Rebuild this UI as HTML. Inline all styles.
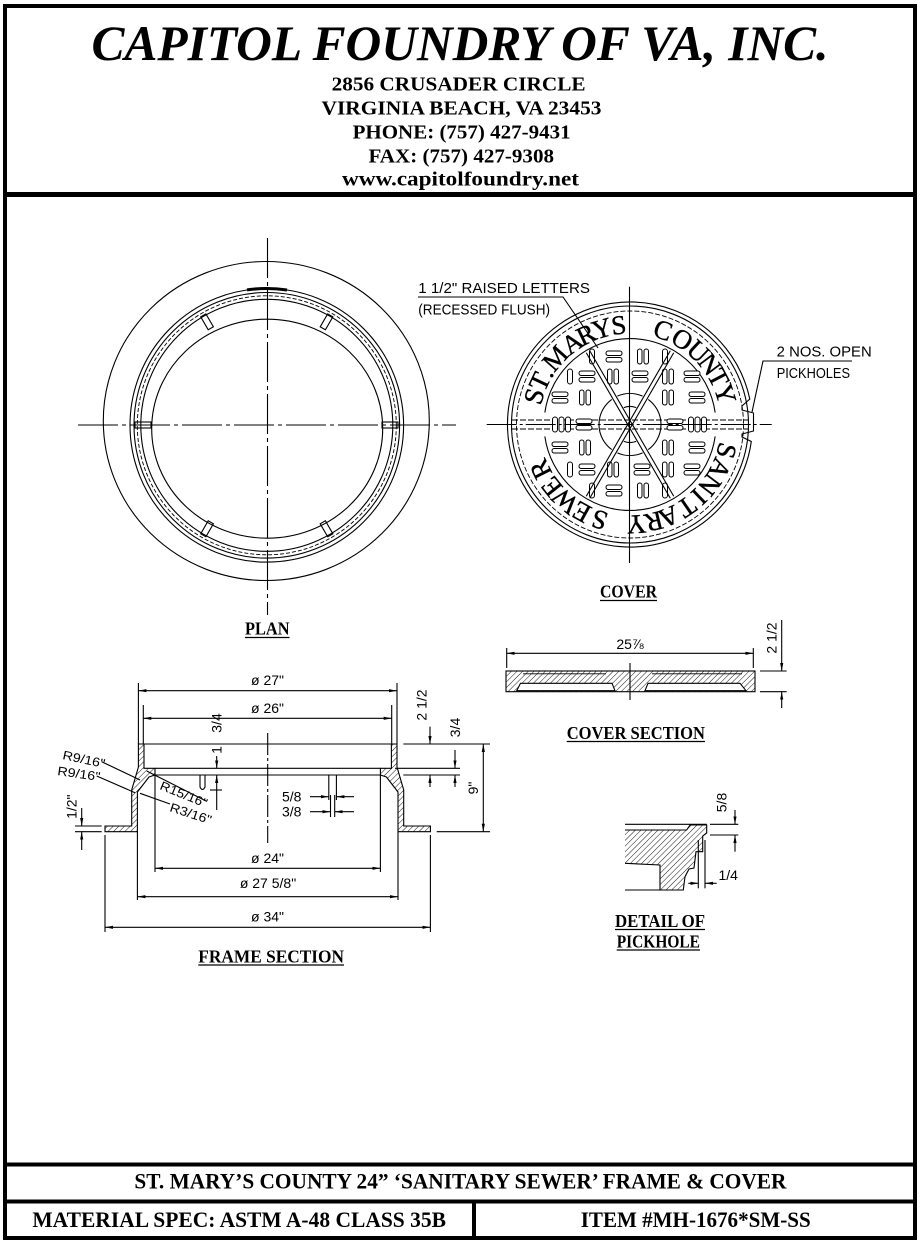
<!DOCTYPE html>
<html><head><meta charset="utf-8">
<style>
html,body{margin:0;padding:0;background:#fff;}
svg{display:block;}
.s{font-family:"Liberation Sans",Arial,sans-serif;}
.t{font-family:"Liberation Serif","Times New Roman",serif;}
</style></head>
<body>
<svg width="920" height="1246" viewBox="0 0 920 1246" xmlns="http://www.w3.org/2000/svg">
<defs>
<marker id="a" viewBox="0 0 10 4" refX="10" refY="2" markerWidth="8" markerHeight="3.2" markerUnits="userSpaceOnUse" orient="auto-start-reverse"><path d="M0,0 L10,2 L0,4 Z" fill="#000" stroke="none"/></marker>
<pattern id="h" width="4" height="4" patternUnits="userSpaceOnUse" patternTransform="rotate(45)"><line x1="0" y1="-1" x2="0" y2="5" stroke="#000" stroke-width="0.9"/></pattern>
<g id="sh"><rect x="-8" y="-5.5" width="16" height="4.5" rx="2.2"/><rect x="-8" y="1" width="16" height="4.5" rx="2.2"/></g>
<g id="sv"><rect x="-5.5" y="-7.5" width="4.5" height="15" rx="2.2"/><rect x="1" y="-7.5" width="4.5" height="15" rx="2.2"/></g>
<rect id="s1" x="-2.5" y="-7.5" width="5" height="15" rx="2.5"/>
</defs>
<rect width="920" height="1246" fill="#fff"/>

<!-- borders -->
<g fill="none" stroke="#000">
<rect x="5" y="6" width="910" height="1232" stroke-width="4"/>
<line x1="5" y1="194.5" x2="915" y2="194.5" stroke-width="5"/>
<line x1="5" y1="1164.5" x2="915" y2="1164.5" stroke-width="4"/>
<line x1="5" y1="1201.5" x2="915" y2="1201.5" stroke-width="4"/>
<line x1="474" y1="1201.5" x2="474" y2="1238" stroke-width="4"/>
</g>

<!-- header -->
<g class="t" fill="#000" font-weight="bold">
<text x="91.5" y="60" font-size="50" font-style="italic" textLength="737" lengthAdjust="spacingAndGlyphs">CAPITOL FOUNDRY OF VA, INC.</text>
<text x="331.6" y="90.5" font-size="20.5" textLength="254" lengthAdjust="spacingAndGlyphs">2856 CRUSADER CIRCLE</text>
<text x="321.5" y="114.5" font-size="20.5" textLength="280" lengthAdjust="spacingAndGlyphs">VIRGINIA BEACH, VA 23453</text>
<text x="352.6" y="138.5" font-size="20.5" textLength="218" lengthAdjust="spacingAndGlyphs">PHONE: (757) 427-9431</text>
<text x="368.5" y="162.5" font-size="20.5" textLength="185.5" lengthAdjust="spacingAndGlyphs">FAX: (757) 427-9308</text>
<text x="342" y="185.5" font-size="20.5" textLength="237" lengthAdjust="spacingAndGlyphs">www.capitolfoundry.net</text>
</g>

<!-- footer -->
<g class="t" fill="#000" font-weight="bold" font-size="22">
<text x="134.4" y="1188.3" textLength="652" lengthAdjust="spacingAndGlyphs">ST. MARY’S COUNTY 24” ‘SANITARY SEWER’ FRAME &amp; COVER</text>
<text x="32.4" y="1227" textLength="413.6" lengthAdjust="spacingAndGlyphs">MATERIAL SPEC:  ASTM A-48 CLASS 35B</text>
<text x="580.7" y="1227" textLength="230" lengthAdjust="spacingAndGlyphs">ITEM #MH-1676*SM-SS</text>
</g>

<!-- PLAN -->
<g fill="none" stroke="#000" stroke-width="1.1">
<ellipse cx="266.3" cy="421" rx="163" ry="159.5"/>
<circle cx="266.8" cy="425.3" r="136.8"/>
<circle cx="266.8" cy="425.3" r="132.8"/>
<circle cx="266.8" cy="425.3" r="129.5" stroke-dasharray="4 2" stroke-width="0.9"/>
<circle cx="266.8" cy="425.3" r="126"/>
<ellipse cx="267.2" cy="428.7" rx="115.5" ry="109.5"/>
<path d="M247,289.9 A136.8,136.8 0 0 1 287,290" stroke-width="3"/>
<g transform="translate(266.8 425.3)">
<rect x="-3" y="-127" width="6" height="15" transform="rotate(30)"/>
<rect x="-3" y="-127" width="6" height="15" transform="rotate(-30)"/>
<rect x="-3" y="-127" width="6" height="15" transform="rotate(150)"/>
<rect x="-3" y="-127" width="6" height="15" transform="rotate(-150)"/>
</g>
<rect x="135" y="422" width="16" height="6"/>
<rect x="382" y="422" width="16" height="6"/>
<line x1="267.5" y1="238" x2="267.5" y2="615" stroke-dasharray="40 4 4 4"/>
<line x1="78" y1="425" x2="456" y2="425" stroke-dasharray="40 4 4 4"/>
</g>
<g class="t" font-weight="bold" font-size="17.5" fill="#000">
<text x="245" y="634.5" textLength="44.5" lengthAdjust="spacingAndGlyphs">PLAN</text>
<text x="600" y="597.5" textLength="57" lengthAdjust="spacingAndGlyphs">COVER</text>
<text x="198.3" y="962.5" textLength="145.7" lengthAdjust="spacingAndGlyphs">FRAME SECTION</text>
<text x="566.7" y="739" textLength="138.3" lengthAdjust="spacingAndGlyphs">COVER SECTION</text>
<text x="615" y="927" textLength="90" lengthAdjust="spacingAndGlyphs">DETAIL OF</text>
<text x="616.7" y="947.5" textLength="83.3" lengthAdjust="spacingAndGlyphs">PICKHOLE</text>
</g>
<g stroke="#000" stroke-width="1.3">
<line x1="245" y1="637.5" x2="289.5" y2="637.5"/>
<line x1="600" y1="600.5" x2="657" y2="600.5"/>
<line x1="198.3" y1="965" x2="344" y2="965"/>
<line x1="566.7" y1="741.5" x2="705" y2="741.5"/>
<line x1="615" y1="929.5" x2="705" y2="929.5"/>
<line x1="616.7" y1="950" x2="700" y2="950"/>
</g>

<!-- COVER -->
<g fill="none" stroke="#000" stroke-width="1.1">
<path d="M749.8,399 A122.5,122.5 0 1 0 751.3,441.5 L742,437 L742,434 L753.5,431 L753.5,413 L742,410 L742,406 Z"/>
<circle cx="630" cy="424.5" r="118.5"/>
<circle cx="630" cy="424.5" r="113.5" stroke-dasharray="5 2" stroke-width="0.9"/>
<path d="M544.84,412.53 A86,86 0 0 1 715.16,412.53"/>
<path d="M715.16,436.47 A86,86 0 0 1 544.84,436.47"/>
<line x1="512" y1="420" x2="748" y2="420" stroke-dasharray="6 2" stroke-width="0.9"/>
<line x1="512" y1="429" x2="748" y2="429" stroke-dasharray="6 2" stroke-width="0.9"/>
</g>
<g fill="#fff" stroke="#000" stroke-width="1">
<use href="#s1" x="592" y="356.5"/><use href="#sh" x="614" y="356.5"/><use href="#sv" x="643" y="356.5"/><use href="#s1" x="665" y="356.5"/>
<use href="#s1" x="570" y="376.5"/><use href="#sh" x="587" y="376.5"/><use href="#sv" x="613" y="376.5"/><use href="#sh" x="640" y="376.5"/><use href="#sv" x="668" y="376.5"/><use href="#sh" x="692" y="376.5"/>
<use href="#sh" x="560" y="397.5"/><use href="#sv" x="585" y="397.5"/><use href="#sv" x="668" y="397.5"/><use href="#sh" x="697" y="397.5"/>
<use href="#s1" x="555" y="424.5"/><use href="#s1" x="561.5" y="424.5"/><use href="#s1" x="568" y="424.5"/><use href="#sh" x="584" y="424.5"/>
<use href="#sh" x="675" y="424.5"/><use href="#s1" x="691" y="424.5"/><use href="#s1" x="697.5" y="424.5"/><use href="#s1" x="704" y="424.5"/>
<use href="#sh" x="560" y="447.5"/><use href="#sv" x="585" y="447.5"/><use href="#sv" x="668" y="447.5"/><use href="#sh" x="697" y="447.5"/>
<use href="#s1" x="570" y="469.5"/><use href="#sh" x="587" y="469.5"/><use href="#sv" x="613" y="469.5"/><use href="#sh" x="642" y="469.5"/><use href="#sv" x="668" y="469.5"/><use href="#sh" x="692" y="469.5"/>
<use href="#s1" x="592" y="490.5"/><use href="#sh" x="614" y="490.5"/><use href="#sv" x="643" y="490.5"/><use href="#s1" x="665" y="490.5"/>
</g>
<g fill="none" stroke="#000" stroke-width="1.1">
<path d="M642.61,396.18 A31,31 0 0 0 617.39,396.18"/>
<path d="M611.78,399.42 A31,31 0 0 0 611.78,449.58"/>
<path d="M617.39,452.82 A31,31 0 0 0 642.61,452.82"/>
<path d="M648.22,449.58 A31,31 0 0 0 648.22,399.42"/>
<path d="M636.2,407.6 A18,18 0 0 0 623.8,407.6"/>
<path d="M623.8,441.4 A18,18 0 0 0 636.2,441.4"/>
<line x1="673.73" y1="352.76" x2="589.73" y2="498.24"/>
<line x1="670.27" y1="350.76" x2="586.27" y2="496.24"/>
<line x1="589.73" y1="350.76" x2="673.73" y2="496.24"/>
<line x1="586.27" y1="352.76" x2="670.27" y2="498.24"/>
<line x1="629.5" y1="286.7" x2="629.5" y2="563"/>
<line x1="486.7" y1="424.5" x2="771.7" y2="424.5" stroke-dasharray="30 3 3 3"/>
<!-- leaders -->
<polyline points="418,297 563,297 598,348"/>
<polyline points="852,361 763,361 752,412"/>
</g>
<g class="t" font-size="27" text-anchor="middle" fill="#000" stroke="#000" stroke-width="0.4">
<text x="630" y="333.5" transform="rotate(-73.6 630 424.5)">S</text>
<text x="630" y="333.5" transform="rotate(-64.6 630 424.5)">T</text>
<text x="630" y="333.5" transform="rotate(-58 630 424.5)">.</text>
<text x="630" y="333.5" transform="rotate(-48.4 630 424.5)">M</text>
<text x="630" y="333.5" transform="rotate(-35.3 630 424.5)">A</text>
<text x="630" y="333.5" transform="rotate(-26 630 424.5)">R</text>
<text x="630" y="333.5" transform="rotate(-16.3 630 424.5)">Y</text>
<text x="630" y="333.5" transform="rotate(-6.5 630 424.5)">S</text>
<text x="630" y="333.5" transform="rotate(19.3 630 424.5)">C</text>
<text x="630" y="333.5" transform="rotate(31.6 630 424.5)">O</text>
<text x="630" y="333.5" transform="rotate(43 630 424.5)">U</text>
<text x="630" y="333.5" transform="rotate(53 630 424.5)">N</text>
<text x="630" y="333.5" transform="rotate(62.2 630 424.5)">T</text>
<text x="630" y="333.5" transform="rotate(72.2 630 424.5)">Y</text>
<text x="630" y="333.5" transform="rotate(105.2 630 424.5)">S</text>
<text x="630" y="333.5" transform="rotate(116.1 630 424.5)">A</text>
<text x="630" y="333.5" transform="rotate(127 630 424.5)">N</text>
<text x="630" y="333.5" transform="rotate(136.3 630 424.5)">I</text>
<text x="630" y="333.5" transform="rotate(145.5 630 424.5)">T</text>
<text x="630" y="333.5" transform="rotate(157.2 630 424.5)">A</text>
<text x="630" y="333.5" transform="rotate(166.2 630 424.5)">R</text>
<text x="630" y="333.5" transform="rotate(176.4 630 424.5)">Y</text>
<text x="630" y="333.5" transform="rotate(197.8 630 424.5)">S</text>
<text x="630" y="333.5" transform="rotate(209 630 424.5)">E</text>
<text x="630" y="333.5" transform="rotate(220.4 630 424.5)">W</text>
<text x="630" y="333.5" transform="rotate(231.6 630 424.5)">E</text>
<text x="630" y="333.5" transform="rotate(243.4 630 424.5)">R</text>
</g>
<g class="s" fill="#000" font-size="14.5">
<text x="418.3" y="293" textLength="171.7" lengthAdjust="spacingAndGlyphs">1  1/2" RAISED LETTERS</text>
<text x="418.3" y="314.5" textLength="131.7" lengthAdjust="spacingAndGlyphs">(RECESSED FLUSH)</text>
<text x="776.7" y="356.7" textLength="95" lengthAdjust="spacingAndGlyphs">2 NOS. OPEN</text>
<text x="776.7" y="378" textLength="73.3" lengthAdjust="spacingAndGlyphs">PICKHOLES</text>
</g>

<!-- COVER SECTION -->
<g stroke="#000" stroke-width="1.1">
<rect x="506" y="671" width="249" height="20.7" fill="url(#h)"/>
<path d="M516.7,690.7 L520.5,683.3 L612,683.3 L615,690.7 Z" fill="#fff"/>
<path d="M645,690.7 L648,683.3 L740,683.3 L746,690.7 Z" fill="#fff"/>
<line x1="523" y1="673.8" x2="606" y2="673.8" stroke-width="0.8"/>
<line x1="652" y1="673.8" x2="742" y2="673.8" stroke-width="0.8"/>
<line x1="630" y1="663" x2="630" y2="700"/>
<line x1="506.7" y1="648" x2="506.7" y2="668" fill="none"/>
<line x1="753.3" y1="648" x2="753.3" y2="668"/>
<line x1="506.7" y1="653.3" x2="753.3" y2="653.3" marker-start="url(#a)" marker-end="url(#a)"/>
<line x1="760" y1="671" x2="786.7" y2="671"/>
<line x1="760" y1="691.7" x2="786.7" y2="691.7"/>
<line x1="781.7" y1="620" x2="781.7" y2="671" marker-end="url(#a)"/>
<line x1="781.7" y1="708" x2="781.7" y2="691.7" marker-end="url(#a)"/>
</g>
<g class="s" fill="#000" font-size="14">
<text x="630" y="649" text-anchor="middle">25⅞</text>
<text transform="translate(776.7 638) rotate(-90)" text-anchor="middle">2 1/2</text>
</g>

<!-- FRAME SECTION -->
<g stroke="#000" stroke-width="1.1" fill="none">
<path d="M138.4,744 L144,744 L144,768.3 L155,768.3 L155,775 L149,777 L137.4,792 L137.4,831.7 L105,831.7 L105,826 L131.7,826 L131.7,790 L138.4,767 Z" fill="url(#h)"/>
<path d="M397,744 L391.4,744 L391.4,768.3 L380.4,768.3 L380.4,775 L386.4,777 L398,792 L398,831.7 L430.4,831.7 L430.4,826 L403.7,826 L403.7,790 L397,767 Z" fill="url(#h)"/>
<line x1="144" y1="744" x2="391.4" y2="744"/>
<line x1="155" y1="768.3" x2="380.4" y2="768.3"/>
<line x1="155" y1="775" x2="380.4" y2="775"/>
<line x1="155" y1="775" x2="155" y2="872"/>
<line x1="380.4" y1="775" x2="380.4" y2="872"/>
<line x1="267.7" y1="733" x2="267.7" y2="843" stroke-dasharray="22 3 3 3"/>
<!-- lugs -->
<path d="M200,775 L200,787 Q202.5,792 205,787 L205,775"/>
<line x1="328.8" y1="775" x2="328.8" y2="800"/>
<line x1="336.4" y1="775" x2="336.4" y2="800"/>
<line x1="330.5" y1="795" x2="330.5" y2="817"/>
<line x1="334.7" y1="795" x2="334.7" y2="817"/>
<!-- extension lines -->
<line x1="138.4" y1="683" x2="138.4" y2="744"/>
<line x1="397" y1="683" x2="397" y2="744"/>
<line x1="143.3" y1="705" x2="143.3" y2="744"/>
<line x1="391.7" y1="705" x2="391.7" y2="744"/>
<line x1="137.4" y1="831.7" x2="137.4" y2="900"/>
<line x1="398" y1="831.7" x2="398" y2="900"/>
<line x1="105" y1="835" x2="105" y2="932"/>
<line x1="430.4" y1="835" x2="430.4" y2="932"/>
<!-- dim lines -->
<line x1="138.4" y1="690.7" x2="397" y2="690.7" marker-start="url(#a)" marker-end="url(#a)"/>
<line x1="143.3" y1="718.3" x2="391.7" y2="718.3" marker-start="url(#a)" marker-end="url(#a)"/>
<line x1="155" y1="868.3" x2="380.4" y2="868.3" marker-start="url(#a)" marker-end="url(#a)"/>
<line x1="137.4" y1="896.7" x2="398" y2="896.7" marker-start="url(#a)" marker-end="url(#a)"/>
<line x1="105" y1="927.3" x2="430.4" y2="927.3" marker-start="url(#a)" marker-end="url(#a)"/>
<!-- 5/8 3/8 -->
<line x1="310" y1="796.7" x2="328.8" y2="796.7" marker-end="url(#a)"/>
<line x1="354" y1="796.7" x2="336.4" y2="796.7" marker-end="url(#a)"/>
<line x1="310" y1="811.7" x2="330.5" y2="811.7" marker-end="url(#a)"/>
<line x1="354" y1="811.7" x2="334.7" y2="811.7" marker-end="url(#a)"/>
<!-- left 3/4 / 1 dims -->
<line x1="216.7" y1="756" x2="216.7" y2="768.3" marker-end="url(#a)"/>
<line x1="210" y1="790" x2="222" y2="790"/>
<line x1="216.7" y1="810" x2="216.7" y2="775" marker-end="url(#a)"/>
<!-- left 1/2 -->
<line x1="75" y1="826" x2="101.7" y2="826"/>
<line x1="75" y1="831.7" x2="101.7" y2="831.7"/>
<line x1="81.7" y1="808" x2="81.7" y2="826" marker-end="url(#a)"/>
<line x1="81.7" y1="850" x2="81.7" y2="831.7" marker-end="url(#a)"/>
<!-- right dims -->
<line x1="403.3" y1="744" x2="490" y2="744"/>
<line x1="395" y1="768.3" x2="460" y2="768.3"/>
<line x1="403.3" y1="775" x2="460" y2="775"/>
<line x1="436.7" y1="831.7" x2="490" y2="831.7"/>
<line x1="430" y1="726.7" x2="430" y2="744" marker-end="url(#a)"/>
<line x1="430" y1="787" x2="430" y2="775" marker-end="url(#a)"/>
<line x1="455" y1="750" x2="455" y2="768.3" marker-end="url(#a)"/>
<line x1="455" y1="787" x2="455" y2="775" marker-end="url(#a)"/>
<line x1="483.3" y1="744" x2="483.3" y2="831.7" marker-start="url(#a)" marker-end="url(#a)"/>
<!-- R leaders -->
<line x1="101.7" y1="761.7" x2="140" y2="780"/>
<line x1="96.7" y1="776" x2="135" y2="792.7"/>
<line x1="146.7" y1="771" x2="206" y2="801"/>
<line x1="140" y1="793.3" x2="170" y2="804"/>
</g>
<g class="s" fill="#000" font-size="14">
<text x="267.5" y="685" text-anchor="middle">ø 27"</text>
<text x="267.5" y="713" text-anchor="middle">ø 26"</text>
<text x="267.5" y="863" text-anchor="middle">ø 24"</text>
<text x="268" y="888" text-anchor="middle">ø 27 5/8"</text>
<text x="267.5" y="921.5" text-anchor="middle">ø 34"</text>
<text x="282" y="801.5">5/8</text>
<text x="282" y="816.5">3/8</text>
<text transform="translate(221.7 723) rotate(-90)" text-anchor="middle">3/4</text>
<text transform="translate(221.7 750) rotate(-90)" text-anchor="middle">1</text>
<text transform="translate(76.7 806.7) rotate(-90)" text-anchor="middle">1/2"</text>
<text transform="translate(426.7 705) rotate(-90)" text-anchor="middle">2 1/2</text>
<text transform="translate(460 727.5) rotate(-90)" text-anchor="middle">3/4</text>
<text transform="translate(478 788) rotate(-90)" text-anchor="middle">9"</text>
</g>
<g class="s" fill="#000" font-size="12.5">
<text x="62" y="759" transform="rotate(12 62 759)" textLength="43" lengthAdjust="spacingAndGlyphs">R9/16"</text>
<text x="57" y="775" transform="rotate(8 57 775)" textLength="43" lengthAdjust="spacingAndGlyphs">R9/16"</text>
<text x="159" y="789" transform="rotate(22 159 789)" textLength="50" lengthAdjust="spacingAndGlyphs">R15/16"</text>
<text x="169" y="811" transform="rotate(18 169 811)" textLength="43" lengthAdjust="spacingAndGlyphs">R3/16"</text>
</g>

<!-- DETAIL OF PICKHOLE -->
<g stroke="#000" stroke-width="1.1" fill="none">
<line x1="625" y1="824.3" x2="706.7" y2="824.3"/>
<path d="M625,830 L686.7,830 L690,825 L706.7,825 L706.7,833 L702.7,836 L702.7,851.7 L696,851.7 L694,868 L689,869 L685,876.7 L683.3,890 L660,890 L660,865 L625,863.3" fill="url(#h)"/>
<line x1="625" y1="890" x2="660" y2="890"/>
<line x1="710" y1="824.3" x2="738.3" y2="824.3"/>
<line x1="710" y1="835" x2="738.3" y2="835"/>
<line x1="735" y1="810" x2="735" y2="824.3" marker-end="url(#a)"/>
<line x1="735" y1="851.7" x2="735" y2="835" marker-end="url(#a)"/>
<line x1="698.3" y1="840" x2="698.3" y2="888.3"/>
<line x1="705" y1="840" x2="705" y2="888.3"/>
<line x1="688.3" y1="883.3" x2="698.3" y2="883.3" marker-end="url(#a)"/>
<line x1="716.7" y1="883.3" x2="705" y2="883.3" marker-end="url(#a)"/>
</g>
<g class="s" fill="#000" font-size="14">
<text transform="translate(726.7 802.5) rotate(-90)" text-anchor="middle">5/8</text>
<text x="718.5" y="880">1/4</text>
</g>
</svg>
</body></html>
